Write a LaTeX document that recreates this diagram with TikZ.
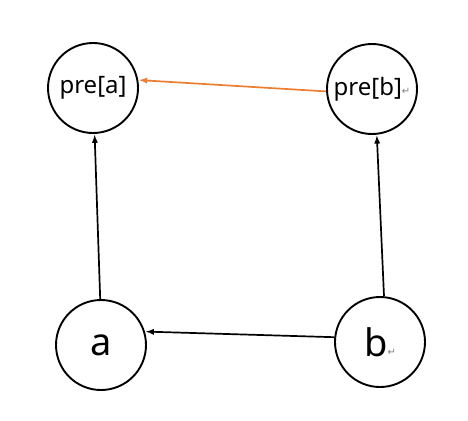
\documentclass[tikz,border=0pt]{standalone}
\usepackage{fontspec}
\setmainfont{Noto Sans}
\newfontfamily\symfont{DejaVu Sans}
\usepackage{xcolor}
\usetikzlibrary{arrows}
\definecolor{linkorange}{RGB}{237,125,49}

\tikzset{
    vertex/.style={circle, draw=black, line width=1.9pt, minimum size=90pt, inner sep=0pt},
    edge/.style={->, line width=1.7pt, shorten >=1pt}
}
\newcommand{\retmark}{{\symfont\fontsize{10}{10}\selectfont\color{gray}\raisebox{1pt}{↵}}}

\begin{document}
\begin{tikzpicture}[>=latex, x=1pt, y=-1pt]
    % 1. Khung ảnh
    \useasboundingbox (0,0) rectangle (468,420);

    % 2. Các đỉnh
    \node[vertex, font=\fontsize{24}{24}\selectfont] (preA) at (93,88) {pre[a]};
    \node[vertex, font=\fontsize{24}{24}\selectfont] (preB) at (372,89) {pre[b]\retmark};
    \node[vertex, font=\fontsize{38}{38}\selectfont] (nodeA) at (101,345) {a};
    \node[vertex, font=\fontsize{38}{38}\selectfont] (nodeB) at (380,342) {b\retmark};

    % 3. Các cạnh
    \draw[edge, linkorange] (preB.183) -- (preA.10);
    \draw[edge] (nodeA.91) -- (preA.272);
    \draw[edge] (nodeB.85) -- (preB.276);
    \draw[edge] (nodeB.174) -- (nodeA.17);
\end{tikzpicture}
\end{document}
